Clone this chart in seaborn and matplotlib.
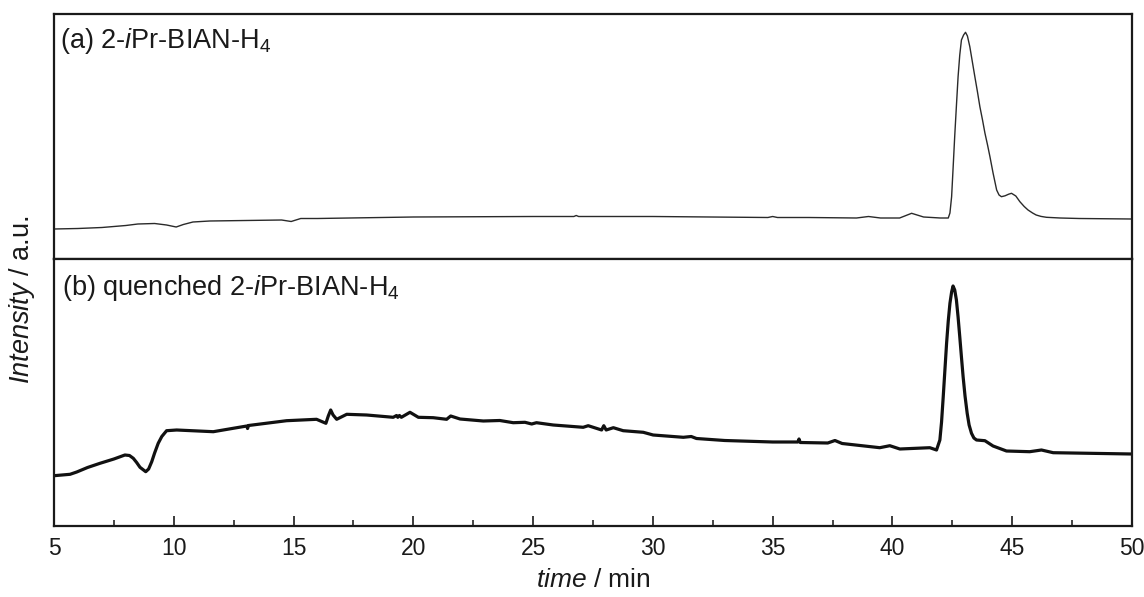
import numpy as np
import pandas as pd
import matplotlib
matplotlib.use("Agg")
import matplotlib.pyplot as plt
from matplotlib.ticker import MultipleLocator
import seaborn as sns

# Retention time (min) and detector response (a.u.) for the two chromatograms
time_a = [5.0, 6.0, 7.0, 8.0, 8.5, 9.2, 9.7, 10.1, 10.4, 10.8, 11.5, 13.0, 14.5,
          14.9, 15.3, 16.0, 20.0, 25.0, 26.7, 26.8, 26.9, 30.0, 34.8, 35.0, 35.2,
          36.5, 38.5, 39.0, 39.5, 40.3, 40.8, 41.3, 42.0, 42.33, 42.4, 42.47, 42.53,
          42.6, 42.67, 42.74, 42.81, 42.88, 42.97, 43.05, 43.13, 43.23, 43.33,
          43.44, 43.55, 43.65, 43.76, 43.86, 43.97, 44.07, 44.2, 44.35, 44.45,
          44.55, 44.7, 44.85, 44.97, 45.15, 45.32, 45.5, 45.66, 45.85, 46.0,
          46.2, 46.43, 47.0, 47.8, 50.0]
intensity_a = [30.0, 30.5, 31.5, 33.5, 35.0, 35.5, 34.0, 32.0, 34.5, 37.0, 38.0, 38.5, 39.0,
               37.5, 40.5, 40.5, 42.0, 42.5, 42.5, 43.5, 42.5, 42.5, 41.5, 42.5, 41.5,
               41.5, 41.0, 42.5, 41.0, 41.0, 45.7, 42.0, 41.0, 41.0, 46.0, 62.3, 90.0,
               123.0, 153.0, 182.3, 204.0, 219.0, 224.0, 226.7, 223.0, 212.3, 198.0,
               182.3, 167.0, 152.3, 139.0, 126.0, 114.0, 102.3, 86.0, 69.0, 64.0,
               62.3, 63.2, 64.8, 65.7, 63.0, 57.3, 52.5, 49.0, 46.0, 44.0,
               42.6, 41.7, 41.0, 40.5, 40.0]

time_b = [5.0, 5.67, 5.95, 6.4, 6.92, 7.5, 7.96, 8.15, 8.31, 8.45, 8.59, 8.83, 8.95,
          9.08, 9.2, 9.35, 9.5, 9.7, 10.12, 11.65, 12.48, 13.05, 13.08, 13.12, 14.71,
          15.96, 16.35, 16.45, 16.55, 16.65, 16.8, 17.22, 18.05, 19.16, 19.3, 19.35,
          19.42, 19.5, 19.86, 20.21, 20.83, 21.39, 21.56, 21.95, 22.92, 23.61, 24.17,
          24.66, 24.94, 25.14, 25.84, 27.09, 27.3, 27.86, 27.95, 28.05, 28.35, 28.76,
          29.6, 30.01, 31.27, 31.6, 31.82, 33.0, 35.0, 36.05, 36.1, 36.15, 37.3,
          37.6, 37.9, 39.47, 39.89, 40.31, 41.56, 41.84, 41.98, 42.05, 42.12, 42.19,
          42.26, 42.33, 42.4, 42.47, 42.53, 42.6, 42.67, 42.74, 42.81, 42.88, 42.95,
          43.03, 43.12, 43.2, 43.3, 43.4, 43.51, 43.86, 44.2, 44.76, 45.73, 46.22,
          46.71, 50.0]
intensity_b = [50.3, 51.7, 54.0, 58.5, 62.7, 67.0, 71.0, 70.5, 67.7, 63.5, 58.7, 54.3, 57.0,
               64.3, 73.0, 82.7, 89.5, 95.3, 96.0, 94.3, 97.7, 100.0, 97.5, 100.5, 105.3,
               106.7, 102.7, 110.0, 116.0, 111.0, 106.7, 111.7, 111.0, 108.7, 110.5, 108.7,
               110.5, 108.7, 113.7, 108.7, 108.3, 106.7, 110.0, 107.0, 105.0, 105.5, 103.3,
               103.7, 102.0, 103.3, 101.0, 98.7, 100.3, 96.0, 100.3, 96.0, 98.3, 95.3,
               93.7, 91.0, 88.7, 89.5, 87.5, 85.5, 84.0, 84.0, 87.0, 83.5, 83.0,
               85.5, 82.5, 78.3, 80.3, 77.0, 78.3, 76.0, 86.0, 104.0, 129.3, 156.0,
               182.7, 205.0, 222.7, 234.0, 240.0, 236.0, 226.0, 209.0, 189.3, 169.0, 149.3,
               130.0, 112.7, 101.0, 92.7, 88.0, 86.0, 85.3, 80.0, 75.0, 74.3, 76.0,
               73.3, 72.0]

panel_labels = [r"(a) 2-$\it{i}$Pr-BIAN-H$_4$", r"(b) quenched 2-$\it{i}$Pr-BIAN-H$_4$"]
x_ticks = [5, 10, 15, 20, 25, 30, 35, 40, 45, 50]

sns.set_theme(style="white")
plt.rcParams.update({
    "font.family": ["Liberation Sans", "DejaVu Sans"],
    "mathtext.fontset": "custom",
    "mathtext.rm": "Liberation Sans",
    "mathtext.it": "Liberation Sans:italic",
    "mathtext.bf": "Liberation Sans:bold",
    "axes.edgecolor": "#1a1a1a",
    "axes.linewidth": 1.6,
})

fig = plt.figure(figsize=(11.44, 5.97), dpi=100)
left, right = 54 / 1144, 1132 / 1144
H = 597
ax_a = fig.add_axes([left, (H - 259) / H, right - left, (259 - 14) / H])
ax_b = fig.add_axes([left, (H - 526) / H, right - left, (526 - 259) / H], sharex=ax_a)

df_a = pd.DataFrame({"time": time_a, "intensity": intensity_a})
df_b = pd.DataFrame({"time": time_b, "intensity": intensity_b})

sns.lineplot(data=df_a, x="time", y="intensity", ax=ax_a, color="#2a2a2a",
             linewidth=1.0, estimator=None, sort=False)
sns.lineplot(data=df_b, x="time", y="intensity", ax=ax_b, color="#111111",
             linewidth=2.3, estimator=None, sort=False)

ax_a.set_ylim(0, 245)
ax_b.set_ylim(0, 267)
ax_a.set_xlim(5, 50)

for ax in (ax_a, ax_b):
    ax.set_xlabel("")
    ax.set_ylabel("")
    ax.set_yticks([])
    for s in ax.spines.values():
        s.set_visible(True)

ax_a.tick_params(axis="x", which="both", bottom=False, labelbottom=False)
ax_b.set_xticks(x_ticks)
ax_b.xaxis.set_minor_locator(MultipleLocator(2.5))
ax_b.tick_params(axis="x", which="major", direction="in", length=7.5, width=1.2,
                 labelsize=16.5, pad=8, colors="#1a1a1a", bottom=True, top=False)
ax_b.tick_params(axis="x", which="minor", direction="in", length=4, width=1.2,
                 bottom=True, top=False)

ax_a.text(0.0056, 0.952, panel_labels[0], transform=ax_a.transAxes,
          ha="left", va="top", fontsize=19.5, color="#1a1a1a")
ax_b.text(0.0072, 0.948, panel_labels[1], transform=ax_b.transAxes,
          ha="left", va="top", fontsize=19.5, color="#1a1a1a")

fig.text(593 / 1144, (H - 580) / H, r"$\it{time}$ / min", ha="center", va="center",
         fontsize=19, color="#1a1a1a")
fig.text(22 / 1144, (H - 300) / H, r"$\it{Intensity}$ / a.u.", ha="center", va="center",
         rotation=90, fontsize=19.5, color="#1a1a1a")

fig.savefig("out.png", dpi=100, facecolor="white")
